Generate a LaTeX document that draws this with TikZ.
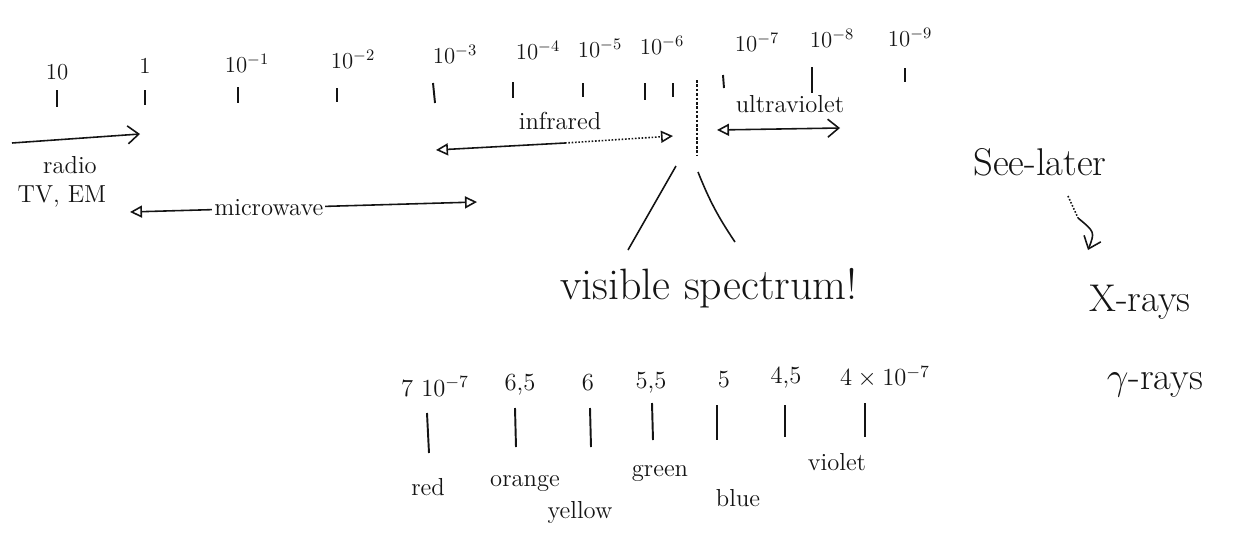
\documentclass[tikz,border=0pt]{standalone}
\usepackage{fix-cm}
\usepackage{fontspec}
\usetikzlibrary{arrows.meta, positioning, calc}
\definecolor{cink}{HTML}{141414}
\tikzset{
  every picture/.style={line width=0.9pt},
  lbl/.style={font=\fontsize{13}{15}\selectfont, text=cink, inner sep=1pt},
  word/.style={font=\fontsize{14}{16}\selectfont, text=cink, inner sep=1pt},
  big/.style={font=\fontsize{25}{28}\selectfont, text=cink, inner sep=1pt},
  mid/.style={font=\fontsize{22}{26}\selectfont, text=cink, inner sep=1pt},
  tickmark/.style={draw=cink, line width=1.1pt},
  ink/.style={draw=cink, line width=0.9pt},
  otri/.tip={Triangle[open, length=2.4mm, width=2.4mm]},
  barb/.tip={Straight Barb[length=2.2mm, width=3.6mm]},
}

\begin{document}
\begin{tikzpicture}[x=0.02cm, y=-0.02cm]
  \useasboundingbox (0,0) rectangle (1248,538);
  % wavelengths in m, top row
  \node[lbl] (e1) at (57,72) {10};
  \node[lbl] (e0) at (145,66) {1};
  \node[lbl] (em1) at (247,63) {$10^{-1}$};
  \node[lbl] (em2) at (353,59) {$10^{-2}$};
  \node[lbl] (em3) at (455,54) {$10^{-3}$};
  \node[lbl] (em4) at (538,50) {$10^{-4}$};
  \node[lbl] (em5) at (600,48) {$10^{-5}$};
  \node[lbl] (em6) at (662,45) {$10^{-6}$};
  \node[lbl] (em7) at (757,42) {$10^{-7}$};
  \node[lbl] (em8) at (832,38) {$10^{-8}$};
  \node[lbl] (em9) at (910,37) {$10^{-9}$};
  \draw[tickmark] (57,90) -- (57,107); \draw[tickmark] (145,90) -- (145,105);
  \draw[tickmark] (238,87) -- (238,103); \draw[tickmark] (337,88) -- (337,102);
  \draw[tickmark] (433,83) -- (435,103); \draw[tickmark] (513,82) -- (513,98);
  \draw[tickmark] (583,83) -- (583,97); \draw[tickmark] (645,83) -- (645,100);
  \draw[tickmark] (673,83) -- (673,97); \draw[tickmark] (723,75) -- (724,88);
  \draw[tickmark] (812,67) -- (812,93); \draw[tickmark] (905,68) -- (905,82);
  \draw[ink, line width=0.6pt, dash pattern=on 1.5pt off 1pt] (697,80) -- (697,155);
  % bands
  \coordinate (rdL) at (12,143); \coordinate (rdR) at (140,134);
  \draw[ink, -{barb}] (rdL) -- (rdR);
  \node[word] (radio) at (70,165) {radio};
  \node[word] (tvem) at (62,196) {TV, EM};
  \coordinate (mwL) at (130,212); \coordinate (mwR) at (477,202);
  \draw[ink, {otri}-{otri}] (mwL) -- node[word, fill=white, pos=0.4] (mw) {microwave} (mwR);
  \coordinate (irL) at (436,150); \coordinate (irM) at (565,143); \coordinate (irR) at (673,136);
  \draw[ink, {otri}-] (irL) -- (irM);
  \draw[ink, densely dotted, -{otri}] (irM) -- (irR);
  \node[word] (ir) at (560,121) {infrared};
  \coordinate (uvL) at (717,130); \coordinate (uvR) at (840,128);
  \draw[ink, {otri}-{barb}] (uvL) -- (uvR);
  \node[word] (uv) at (790,104) {ultraviolet};
  % zoom into the visible part
  \coordinate (vl1) at (676,166); \coordinate (vl2) at (628,250);
  \coordinate (vr1) at (698,172); \coordinate (vr2) at (735,242);
  \draw[ink] (vl1) -- (vl2);
  \draw[ink] (vr1) to[bend right=6] (vr2);
  \node[big] (vis) at (709,288) {visible spectrum!};
  % visible scale
  \node[word] (v70) at (435,387) {7 $10^{-7}$};
  \node[word] (v65) at (520,385) {6,5};
  \node[word] (v60) at (588,383) {6};
  \node[word] (v55) at (651,383) {5,5};
  \node[word] (v50) at (724,380) {5};
  \node[word] (v45) at (786,378) {4,5};
  \node[word] (v40) at (885,377) {$4\times10^{-7}$};
  \draw[tickmark] (427,413) -- (429,453); \draw[tickmark] (515,408) -- (516,447);
  \draw[tickmark] (590,408) -- (591,447); \draw[tickmark] (652,403) -- (653,440);
  \draw[tickmark] (717,405) -- (717,440); \draw[tickmark] (785,405) -- (785,437);
  \draw[tickmark] (865,403) -- (865,437);
  \node[word] (red) at (428,487) {red};
  \node[word] (orange) at (525,483) {orange};
  \node[word] (yellow) at (580,512) {yellow};
  \node[word] (green) at (660,473) {green};
  \node[word] (blue) at (738,498) {blue};
  \node[word] (violet) at (837,462) {violet};
  % shorter waves
  \node[mid] (later) at (1040,162) {See-later};
  \coordinate (hk1) at (1068,196); \coordinate (hk2) at (1078,218); \coordinate (hk3) at (1088,250);
  \draw[ink, densely dotted] (hk1) -- (hk2);
  \draw[ink, -{barb}] (hk2) .. controls (1095,232) .. (hk3);
  \node[mid] (xray) at (1140,302) {X-rays};
  \node[mid] (gray) at (1155,385) {$\gamma$-rays};
\end{tikzpicture}
\end{document}
